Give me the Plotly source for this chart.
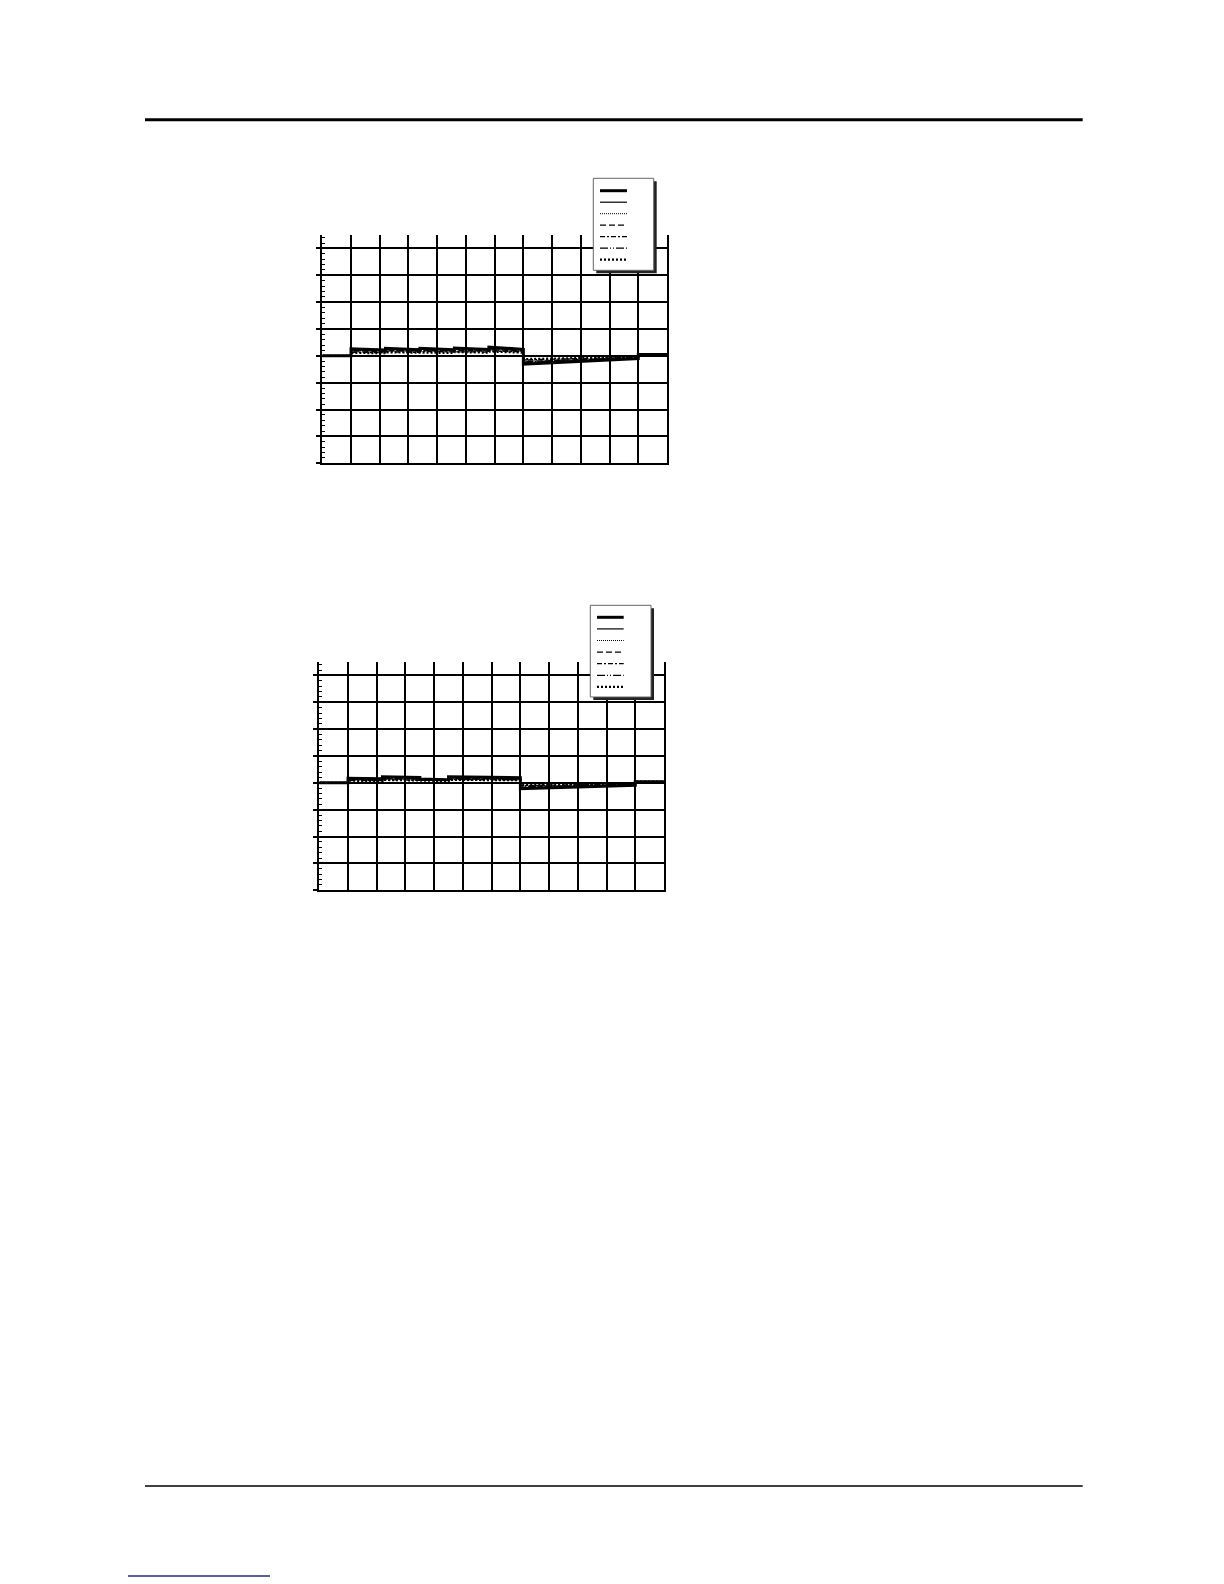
import plotly.graph_objects as go

# page size (px) - the whole page is one figure
W, H = 1224, 1584
# small correction between measured crop positions and the page
DX, DY = -7, -7

# %%
# data (no axis labels survived in the original)
x_top = [0, 1, 1, 2.2, 2.2, 3.4, 3.4, 4.6, 4.6, 5.8, 5.8, 7, 7, 11, 11, 12]
top_s1 = [0, 0, 0.26, 0.22, 0.28, 0.23, 0.28, 0.23, 0.29, 0.24, 0.33, 0.24, -0.31, -0.10, 0.05, 0.05]
top_s2 = [0, 0, 0.22, 0.20, 0.24, 0.21, 0.25, 0.21, 0.25, 0.22, 0.27, 0.22, -0.25, -0.09, 0.04, 0.04]
top_s3 = [0, 0, 0.15, 0.14, 0.17, 0.15, 0.17, 0.15, 0.18, 0.16, 0.20, 0.16, -0.18, -0.06, 0.03, 0.03]
top_s4 = [0, 0, 0.18, 0.16, 0.20, 0.17, 0.21, 0.18, 0.21, 0.18, 0.23, 0.19, -0.21, -0.07, 0.03, 0.03]
top_s5 = [0, 0, 0.13, 0.12, 0.15, 0.13, 0.16, 0.14, 0.16, 0.14, 0.18, 0.15, -0.15, -0.05, 0.02, 0.02]
top_s6 = [0, 0, 0.20, 0.18, 0.22, 0.19, 0.22, 0.19, 0.23, 0.20, 0.25, 0.20, -0.23, -0.08, 0.03, 0.03]
top_s7 = [0, 0, 0.11, 0.10, 0.13, 0.11, 0.13, 0.11, 0.14, 0.12, 0.16, 0.12, -0.12, -0.04, 0.02, 0.02]

x_bot = [0, 1, 1, 2.2, 2.2, 3.5, 3.5, 4.5, 4.5, 7, 7, 11, 11, 12]
bot_s1 = [0, 0, 0.17, 0.15, 0.23, 0.20, 0.14, 0.12, 0.23, 0.19, -0.22, -0.09, 0.04, 0.04]
bot_s2 = [0, 0, 0.15, 0.13, 0.20, 0.18, 0.13, 0.11, 0.20, 0.17, -0.19, -0.08, 0.04, 0.04]
bot_s3 = [0, 0, 0.10, 0.09, 0.14, 0.12, 0.10, 0.09, 0.14, 0.12, -0.12, -0.05, 0.03, 0.03]
bot_s4 = [0, 0, 0.13, 0.12, 0.17, 0.15, 0.11, 0.10, 0.17, 0.15, -0.16, -0.07, 0.03, 0.03]
bot_s5 = [0, 0, 0.09, 0.08, 0.12, 0.11, 0.09, 0.08, 0.12, 0.11, -0.10, -0.04, 0.02, 0.02]
bot_s6 = [0, 0, 0.12, 0.11, 0.16, 0.14, 0.10, 0.09, 0.16, 0.14, -0.14, -0.06, 0.03, 0.03]
bot_s7 = [0, 0, 0.08, 0.07, 0.11, 0.10, 0.08, 0.07, 0.11, 0.10, -0.08, -0.03, 0.05, 0.05]

# line styles of the 7 series: (width, dash)
styles = [
    (3.0, "solid"),
    (1.2, "solid"),
    (1.0, "1px,1px"),
    (1.3, "6px,3px"),
    (1.3, "5px,2px,2px,2px"),
    (1.3, "8px,2px,1px,2px,1px,2px"),
    (2.2, "2px,2px"),
]


def px(x):
    return (x + DX) / W


def py(y):
    return 1 - (y + DY) / H


fig = go.Figure()

top_series = [top_s1, top_s2, top_s3, top_s4, top_s5, top_s6, top_s7]
bot_series = [bot_s1, bot_s2, bot_s3, bot_s4, bot_s5, bot_s6, bot_s7]

for ys, (w, d) in zip(top_series, styles):
    fig.add_trace(go.Scatter(x=x_top, y=ys, mode="lines", showlegend=False,
                             line=dict(color="black", width=w, dash=d),
                             xaxis="x", yaxis="y"))
for ys, (w, d) in zip(bot_series, styles):
    fig.add_trace(go.Scatter(x=x_bot, y=ys, mode="lines", showlegend=False,
                             line=dict(color="black", width=w, dash=d),
                             xaxis="x2", yaxis="y2"))

# %%
# axes - grid of 12 x 8.5 divisions, labels missing in the scan
xax = dict(range=[0, 12], dtick=1, tick0=0, showgrid=True, gridcolor="black", gridwidth=1.8,
           showline=True, linecolor="black", linewidth=1.8, ticks="", showticklabels=False,
           zeroline=False, mirror=False)
yax = dict(range=[-4, 4.5], dtick=1, tick0=0, showgrid=True, gridcolor="black", gridwidth=1.8,
           showline=True, linecolor="black", linewidth=1.8, mirror=True,
           ticks="outside", ticklen=4, tickwidth=1.8, tickcolor="black", showticklabels=False,
           zeroline=False,
           minor=dict(dtick=0.2, ticks="inside", ticklen=3, tickwidth=1, tickcolor="black", showgrid=False))

fig.update_layout(
    width=W, height=H,
    margin=dict(l=0, r=0, t=0, b=0),
    paper_bgcolor="white", plot_bgcolor="white",
    showlegend=False,
    xaxis=dict(xax, domain=[px(321.3), px(666)], anchor="y"),
    yaxis=dict(yax, domain=[py(462.3), py(234)], anchor="x"),
    xaxis2=dict(xax, domain=[px(318.3), px(663)], anchor="y2"),
    yaxis2=dict(yax, domain=[py(889.3), py(661)], anchor="x2"),
)

# %%
# legend boxes (no text in the scan), drawn with a drop shadow
shapes = []
for (bx0, by0, bx1, by1, lx0, lx1, row0, step) in [
    (592.3, 177.3, 652.7, 269.3, 599, 626, 189.7, 11.5),
    (589.3, 604.3, 650.0, 696.0, 596, 622.7, 616.3, 11.6),
]:
    shapes.append(dict(type="rect", xref="paper", yref="paper", layer="above",
                       x0=px(bx0 + 3), x1=px(bx1 + 3), y0=py(by1 + 3), y1=py(by0 + 3),
                       fillcolor="#222", line=dict(width=0)))
    shapes.append(dict(type="rect", xref="paper", yref="paper", layer="above",
                       x0=px(bx0), x1=px(bx1), y0=py(by1), y1=py(by0),
                       fillcolor="white", line=dict(color="#666", width=1)))
    for i, (w, d) in enumerate(styles):
        yy = py(row0 + i * step)
        shapes.append(dict(type="line", xref="paper", yref="paper", layer="above",
                           x0=px(lx0), x1=px(lx1), y0=yy, y1=yy,
                           line=dict(color="black", width=w, dash=d)))

# page rules
shapes.append(dict(type="line", xref="paper", yref="paper", x0=px(144), x1=px(1081.7),
                   y0=py(118.7), y1=py(118.7), line=dict(color="black", width=3)))
shapes.append(dict(type="line", xref="paper", yref="paper", x0=px(144), x1=px(1081.7),
                   y0=py(1485), y1=py(1485), line=dict(color="black", width=1.5)))
shapes.append(dict(type="line", xref="paper", yref="paper", x0=px(127), x1=px(269),
                   y0=py(1575), y1=py(1575), line=dict(color="#1c2a8c", width=1.5)))

fig.update_layout(shapes=shapes)

fig.write_html("out.html")
